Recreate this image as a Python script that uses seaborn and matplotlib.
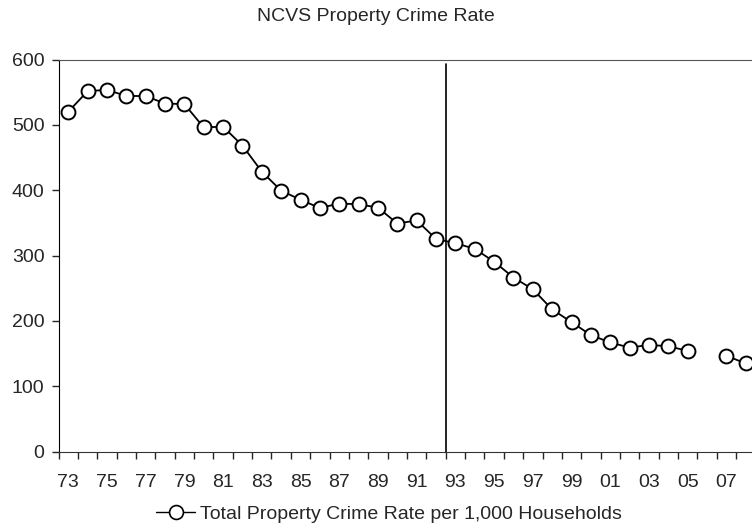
import numpy as np
import pandas as pd
import matplotlib
matplotlib.use("Agg")
import matplotlib.pyplot as plt
from matplotlib.lines import Line2D
import seaborn as sns

# NCVS property crime rate per 1,000 households (2006 not shown)
years = ["73", "74", "75", "76", "77", "78", "79", "80", "81", "82", "83", "84",
         "85", "86", "87", "88", "89", "90", "91", "92", "93", "94", "95", "96",
         "97", "98", "99", "00", "01", "02", "03", "04", "05", "06", "07", "08"]
rates = [519.9, 551.5, 553.6, 544.2, 544.1, 532.6, 531.8, 496.1, 497.2, 468.3,
         428.4, 399.2, 385.4, 372.7, 379.6, 378.4, 373.4, 348.9, 353.7, 325.3,
         318.9, 310.2, 290.5, 266.3, 248.3, 217.4, 198.0, 178.1, 166.9, 159.0,
         163.2, 161.1, 154.0, np.nan, 146.5, 134.7]
break_after = "92"   # redesign marker between 92 and 93
series_name = "Total Property Crime Rate per 1,000 Households"

df = pd.DataFrame({"year": years, "rate": rates})
df["pos"] = np.arange(len(years))
df["segment"] = df["rate"].isna().cumsum()
df = df.dropna()

sns.set_style("ticks")
plt.rcParams["font.family"] = ["Liberation Sans", "DejaVu Sans"]

fig = plt.figure(figsize=(7.52, 5.29), dpi=100)
ax = fig.add_axes([58.5 / 752, 0.1465, 697 / 752, 0.741])

sns.lineplot(data=df, x="pos", y="rate", units="segment", estimator=None,
             color="black", linewidth=1.3, marker="o", markersize=10,
             markerfacecolor="white", markeredgecolor="black",
             markeredgewidth=1.4, ax=ax, legend=False)

ax.set_xlim(-0.5, len(years) - 0.5)
ax.set_ylim(0, 600)
ax.set_yticks(range(0, 601, 100))
ax.tick_params(axis="y", labelsize=14, length=5, width=1, pad=5, direction="out")

# labels on every other year, tick marks on category boundaries
ax.set_xticks(np.arange(0, len(years), 2))
ax.set_xticklabels(years[::2])
ax.set_xticks(np.arange(-0.5, len(years), 1), minor=True)
ax.tick_params(axis="x", which="major", length=0, labelsize=14, pad=16)
ax.tick_params(axis="x", which="minor", length=5, width=1, direction="out")

ax.set_xlabel("")
ax.set_ylabel("")

brk = years.index(break_after) + 0.5
ax.axvline(brk, ymin=0, ymax=0.988, color="black", linewidth=1.2)

for s in ["left"]:
    ax.spines[s].set_color("black")
ax.spines["top"].set_visible(True)
ax.spines["top"].set_color("#555555")
ax.spines["bottom"].set_color("#333333")
ax.spines["right"].set_visible(False)

fig.suptitle("NCVS Property Crime Rate", x=0.5, y=0.985, fontsize=14)

handle = Line2D([], [], color="black", linewidth=1.0, marker="o", markersize=10,
                markerfacecolor="white", markeredgecolor="black", markeredgewidth=1.2)
fig.legend([handle], [series_name], loc="center", bbox_to_anchor=(389 / 752, 1 - 514 / 529),
           frameon=False, fontsize=14, handlelength=2.0, handletextpad=0.25)

fig.savefig("out.png", dpi=100)
